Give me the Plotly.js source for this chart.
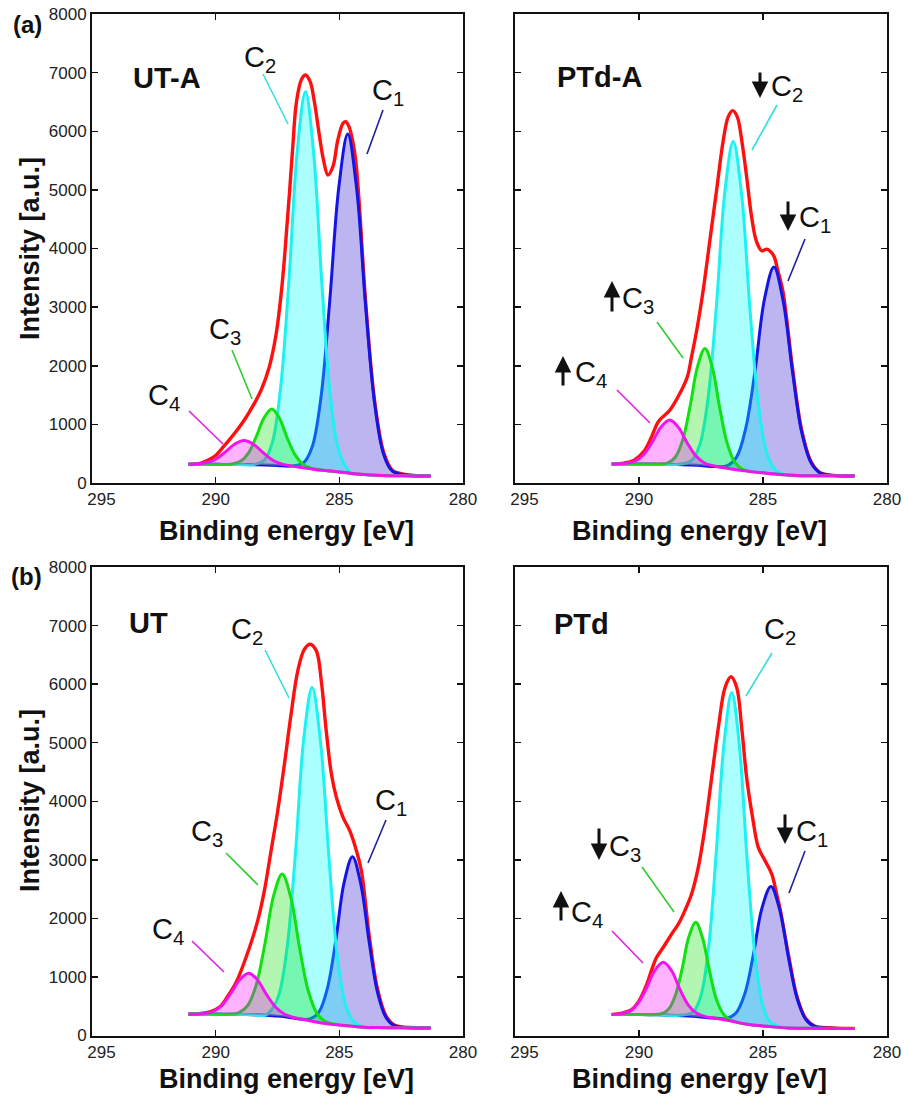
<!DOCTYPE html>
<html><head><meta charset="utf-8">
<script src="https://cdn.plot.ly/plotly-3.0.1.min.js"></script>
<style>html,body{margin:0;padding:0;background:#fff}</style>
</head><body><div id="chart" style="width:905px;height:1098px"></div>
<script>
// ---------- tick labels ----------
const xTickVals = [295, 290, 285, 280];
const xTickText = ['\u2007\u2007295', '290', '285', '280'];
const yTickVals = [0, 1000, 2000, 3000, 4000, 5000, 6000, 7000, 8000];

// ---------- (a) UT-A ----------
const utA_base_x = [281.3,282,283,283.5,284,284.5,285,285.5,286,286.5,287,287.5,288,288.5,289,289.5,290,291.1];
const utA_base_y = [118,120,125,132,145,163,188,210,232,262,288,300,308,312,315,317,318,318];
const utA_env_x = [281.3,282.0,282.5,282.85,283.2,283.57,283.94,284.2,284.34,284.47,284.61,284.74,284.85,285.06,285.26,285.46,285.64,285.8,286.0,286.18,286.37,286.54,286.74,286.88,287.01,287.12,287.22,287.35,287.55,287.83,288.16,288.5,288.8,289.1,289.4,289.7,290.0,290.3,290.6,291.1];
const utA_env_y = [122,130,160,215,510,1390,3110,4800,5510,5852,6079,6164,6137,5852,5396,5254,5510,5908,6478,6846,6960,6875,6478,5750,4980,4380,3830,3236,2554,1984,1587,1310,1100,920,760,610,470,390,340,318];
const utA_c1_x = [282.85,283.21,283.57,283.94,284.30,284.66,285.02,285.39,285.75,286.11,286.47];
const utA_c1_y = [200,489,1349,3033,5016,5951,5049,3095,1436,600,336];
const utA_c2_x = [284.71,285.05,285.38,285.71,286.04,286.37,286.70,287.03,287.37,287.70,288.03];
const utA_c2_y = [257,591,1554,3429,5633,6674,5671,3499,1646,704,392];
const utA_c3_x = [286.17,286.48,286.79,287.11,287.42,287.73,288.04,288.36,288.67,288.98,289.29];
const utA_c3_y = [255,321,479,771,1105,1264,1115,790,515,375,329];
const utA_c4_x = [286.91,287.30,287.69,288.07,288.46,288.85,289.24,289.63,290.01,290.40,290.79];
const utA_c4_y = [288,321,389,513,657,724,661,522,404,344,323];

// ---------- PTd-A ----------
const ptdA_base_x = [281.3,282,283,283.5,284,284.5,285,285.5,286,286.5,287,287.5,288,288.5,289,289.5,290,291.1];
const ptdA_base_y = [122,122,123,125,135,153,174,194,221,255,282,300,309,315,320,323,325,325];
const ptdA_env_x = [281.3,282.0,282.69,283.06,283.44,283.81,284.2,284.4,284.55,284.7,284.85,285.05,285.26,285.46,285.66,285.86,286.04,286.22,286.4,286.6,286.87,287.14,287.41,287.67,287.88,288.05,288.35,288.75,289.22,289.5,289.8,290.2,290.6,291.1];
const ptdA_env_y = [123,125,175,360,900,1960,3280,3620,3860,3950,3990,3960,4117,4543,5226,5852,6249,6352,6249,5852,4999,4146,3293,2610,2155,1814,1530,1245,1046,780,540,390,340,325];
const ptdA_c1_x = [282.69,283.06,283.44,283.81,284.19,284.56,284.94,285.31,285.69,286.06,286.44];
const ptdA_c1_y = [169,344,867,1896,3110,3685,3139,1951,946,446,297];
const ptdA_c2_x = [284.51,284.85,285.19,285.53,285.86,286.20,286.54,286.87,287.21,287.55,287.89];
const ptdA_c2_y = [226,517,1357,2991,4915,5825,4958,3070,1465,650,380];
const ptdA_c3_x = [285.84,286.14,286.44,286.74,287.04,287.34,287.64,287.94,288.24,288.54,288.84];
const ptdA_c3_y = [239,355,671,1268,1965,2294,1985,1308,732,440,344];
const ptdA_c4_x = [287.01,287.36,287.71,288.06,288.41,288.76,289.11,289.46,289.81,290.16,290.51];
const ptdA_c4_y = [293,342,463,688,949,1073,956,701,483,372,335];

// ---------- (b) UT ----------
const ut_base_x = [281.3,282,283,283.5,284,284.5,285,285.5,286,286.5,287,287.5,288,288.5,289,289.5,290,291.1];
const ut_base_y = [130,130,132,135,142,160,180,202,236,277,308,331,345,354,360,364,365,365];
const ut_env_x = [281.3,282.0,282.78,283.12,283.46,283.79,284.11,284.31,284.58,284.85,285.12,285.32,285.53,285.73,285.93,286.18,286.41,286.68,286.95,287.22,287.49,287.76,288.03,288.3,288.77,289.18,289.5,289.8,290.2,290.6,291.1];
const ut_env_y = [132,135,180,340,800,1700,2815,3156,3497,3725,4066,4465,5203,6056,6568,6682,6597,6227,5488,4635,3839,3156,2474,1962,1336,900,680,500,410,375,365];
const ut_c1_x = [282.78,283.12,283.46,283.79,284.13,284.47,284.81,285.14,285.48,285.82,286.16];
const ut_c1_y = [169,314,744,1587,2581,3054,2606,1634,810,405,287];
const ut_c2_x = [284.41,284.75,285.09,285.42,285.76,286.10,286.44,286.77,287.11,287.45,287.79];
const ut_c2_y = [232,526,1382,3048,5013,5944,5065,3144,1511,685,414];
const ut_c3_x = [285.56,285.91,286.26,286.61,286.96,287.31,287.66,288.01,288.36,288.71,289.06];
const ut_c3_y = [238,382,769,1502,2354,2757,2383,1563,863,509,392];
const ut_c4_x = [286.85,287.21,287.57,287.94,288.30,288.66,289.02,289.39,289.75,290.11,290.47];
const ut_c4_y = [308,362,482,697,945,1063,955,717,513,409,374];

// ---------- PTd ----------
const ptd_base_x = [281.3,282,283,283.5,284,284.5,285,285.5,286,286.5,287,287.5,288,288.5,289,289.5,290,291.1];
const ptd_base_y = [120,120,122,124,128,143,164,185,220,266,299,317,331,341,349,356,359,360];
const ptd_env_x = [281.3,282.0,282.91,283.27,283.62,283.97,284.33,284.45,284.65,284.92,285.19,285.42,285.66,285.86,286.06,286.29,286.53,286.8,287.07,287.34,287.61,287.88,288.15,288.41,288.68,289.02,289.29,289.49,289.7,290.0,290.3,290.7,291.1];
const ptd_env_y = [122,125,160,285,650,1370,2200,2417,2759,2986,3213,3725,4407,5260,5942,6125,5942,5260,4407,3554,2871,2417,2133,1906,1735,1506,1336,1120,860,590,440,380,360];
const ptd_c1_x = [282.91,283.27,283.62,283.97,284.33,284.68,285.04,285.39,285.74,286.10,286.46];
const ptd_c1_y = [153,273,628,1326,2152,2545,2180,1378,705,379,293];
const ptd_c2_x = [284.70,285.01,285.32,285.64,285.95,286.26,286.57,286.89,287.20,287.51,287.83];
const ptd_c2_y = [225,515,1357,3003,4939,5859,4993,3100,1486,668,400];
const ptd_c3_x = [286.34,286.61,286.89,287.16,287.44,287.71,287.99,288.26,288.54,288.81,289.09];
const ptd_c3_y = [272,374,630,1110,1669,1933,1685,1141,680,447,371];
const ptd_c4_x = [287.33,287.67,288.01,288.35,288.68,289.02,289.36,289.70,290.04,290.37,290.71];
const ptd_c4_y = [323,378,520,788,1101,1249,1111,807,548,416,372];

// ---------- styles ----------
const W = 905, H = 1098;
const FONT = 'Liberation Sans, Arial, Helvetica, sans-serif';
const compStyle = [
  {line: '#1414e6', fill: 'rgba(90,70,215,0.40)'},
  {line: '#1ff0f0', fill: 'rgba(0,255,255,0.33)'},
  {line: '#12e012', fill: 'rgba(0,225,0,0.30)'},
  {line: '#f014f0', fill: 'rgba(255,0,255,0.30)'}
];
const leadColor = ['#20209a', '#30dede', '#30cc30', '#e020e0'];

const panels = [
  {xa: 'x',  ya: 'y',  bx: utA_base_x, by: utA_base_y, ex: utA_env_x, ey: utA_env_y,
   comps: [[utA_c1_x, utA_c1_y], [utA_c2_x, utA_c2_y], [utA_c3_x, utA_c3_y], [utA_c4_x, utA_c4_y]]},
  {xa: 'x2', ya: 'y2', bx: ptdA_base_x, by: ptdA_base_y, ex: ptdA_env_x, ey: ptdA_env_y,
   comps: [[ptdA_c1_x, ptdA_c1_y], [ptdA_c2_x, ptdA_c2_y], [ptdA_c3_x, ptdA_c3_y], [ptdA_c4_x, ptdA_c4_y]]},
  {xa: 'x3', ya: 'y3', bx: ut_base_x, by: ut_base_y, ex: ut_env_x, ey: ut_env_y,
   comps: [[ut_c1_x, ut_c1_y], [ut_c2_x, ut_c2_y], [ut_c3_x, ut_c3_y], [ut_c4_x, ut_c4_y]]},
  {xa: 'x4', ya: 'y4', bx: ptd_base_x, by: ptd_base_y, ex: ptd_env_x, ey: ptd_env_y,
   comps: [[ptd_c1_x, ptd_c1_y], [ptd_c2_x, ptd_c2_y], [ptd_c3_x, ptd_c3_y], [ptd_c4_x, ptd_c4_y]]}
];

function mergeBase(bx, by, cx, cy) {
  const lo = Math.min(...cx), hi = Math.max(...cx);
  const pts = [];
  bx.forEach((x, i) => { if (x < lo - 0.2 || x > hi + 0.2) pts.push([x, by[i]]); });
  cx.forEach((x, i) => pts.push([x, cy[i]]));
  pts.sort((a, b) => a[0] - b[0]);
  return {x: pts.map(p => p[0]), y: pts.map(p => p[1])};
}

const traces = [];
panels.forEach(P => {
  traces.push({x: P.ex, y: P.ey, xaxis: P.xa, yaxis: P.ya, mode: 'lines', hoverinfo: 'skip',
    line: {color: '#ff1010', width: 3.4, shape: 'spline'}});
  P.comps.forEach((c, i) => {
    traces.push({x: P.bx, y: P.by, xaxis: P.xa, yaxis: P.ya, mode: 'lines', hoverinfo: 'skip',
      line: {color: 'rgba(0,0,0,0)', width: 1, shape: 'spline'}});
    const f = mergeBase(P.bx, P.by, c[0], c[1]);
    traces.push({x: f.x, y: f.y, xaxis: P.xa, yaxis: P.ya, mode: 'lines', hoverinfo: 'skip',
      fill: 'tonexty', fillcolor: compStyle[i].fill,
      line: {color: compStyle[i].line, width: 3, shape: 'spline'}});
  });
});

const px = v => v / W, py = v => 1 - v / H;

function xAxis(dom, anchor) {
  return {domain: dom, anchor: anchor, range: [295, 280], tickmode: 'array', tickvals: xTickVals, ticktext: xTickText,
    ticks: 'inside', ticklen: 6, tickwidth: 1.5, tickcolor: '#111', showline: true, linewidth: 2, linecolor: '#111',
    mirror: 'ticks', showgrid: false, zeroline: false, tickfont: {size: 17, color: '#222', family: FONT}, fixedrange: true};
}
function yAxis(dom, anchor, labels) {
  return {domain: dom, anchor: anchor, range: [0, 8000], tickmode: 'array', tickvals: yTickVals,
    showticklabels: labels, ticks: 'inside', ticklen: 6, tickwidth: 1.5, tickcolor: '#111', showline: true,
    linewidth: 2, linecolor: '#111', mirror: 'ticks', showgrid: false, zeroline: false,
    tickfont: {size: 17, color: '#222', family: FONT}, fixedrange: true};
}
const xL = [px(92), px(463)], xR = [px(515), px(887)];
const yT = [py(483), py(14)], yB = [py(1035.5), py(567)];

const ann = [];
function T(text, x, y, size, opts) {
  ann.push(Object.assign({text: text, x: px(x), y: py(y), xref: 'paper', yref: 'paper', showarrow: false,
    font: {size: size, color: '#111', family: FONT}, xanchor: 'center', yanchor: 'middle'}, opts || {}));
}
function Arrow(x, ytip, ay) {
  ann.push({text: '', x: px(x), y: py(ytip), xref: 'paper', yref: 'paper', showarrow: true,
    ax: 0, ay: ay, arrowhead: 2, arrowsize: 1.1, arrowwidth: 3, arrowcolor: '#111', standoff: 0, startstandoff: 0});
}
// axis titles
[[286, 531], [699, 531], [286, 1079], [699, 1079]].forEach(p => T('<b>Binding energy [eV]</b>', p[0], p[1], 27));
T('<b>Intensity [a.u.]</b>', 30, 249, 27, {textangle: -90});
T('<b>Intensity [a.u.]</b>', 30, 801, 27, {textangle: -90});
T('<b>(a)</b>', 27, 24, 24);
T('<b>(b)</b>', 26, 576, 24);
// sample names
T('<b>UT-A</b>', 131, 78, 29, {xanchor: 'left'});
T('<b>PTd-A</b>', 555, 77, 29, {xanchor: 'left'});
T('<b>UT</b>', 127, 623, 29, {xanchor: 'left'});
T('<b>PTd</b>', 552, 624, 29, {xanchor: 'left'});

// component labels: [name, left x, centre y of C]
const labels = [
  ['C<sub>2</sub>', 245, 55], ['C<sub>1</sub>', 373, 88], ['C<sub>3</sub>', 210, 327], ['C<sub>4</sub>', 149, 393],
  ['C<sub>2</sub>', 772, 84], ['C<sub>1</sub>', 800, 215], ['C<sub>3</sub>', 623, 296], ['C<sub>4</sub>', 576, 370],
  ['C<sub>2</sub>', 232, 627], ['C<sub>1</sub>', 376, 798], ['C<sub>3</sub>', 192, 829], ['C<sub>4</sub>', 153, 927],
  ['C<sub>2</sub>', 765, 627], ['C<sub>1</sub>', 797, 829], ['C<sub>3</sub>', 610, 844], ['C<sub>4</sub>', 572, 910]
];
labels.forEach(l => T(l[0], l[1] - 3, l[2] + 4, 29, {xanchor: 'left'}));

// change arrows: x, tip y, tail offset
Arrow(760, 98, -27); Arrow(788, 231, -31); Arrow(612, 281, 32); Arrow(563, 356, 31);
Arrow(785, 844, -31); Arrow(599, 860, -33); Arrow(561, 891, 31);

// leader lines: [comp index, x1, y1, x2, y2]
const leaders = [
  [1, 263, 74, 288, 124], [0, 383, 110, 367, 154], [2, 232, 350, 252, 399], [3, 189, 411, 223, 444],
  [1, 777, 105, 752, 150], [0, 805, 239, 788, 281], [2, 657, 322, 683, 358], [3, 617, 390, 650, 423],
  [1, 265, 650, 289, 698], [0, 386, 820, 368, 863], [2, 226, 853, 258, 885], [3, 192, 941, 224, 972],
  [1, 772, 653, 746, 696], [0, 805, 851, 789, 893], [2, 642, 867, 674, 912], [3, 612, 931, 643, 963]
];
const shapes = leaders.map(s => ({type: 'line', xref: 'paper', yref: 'paper',
  x0: px(s[1]), y0: py(s[2]), x1: px(s[3]), y1: py(s[4]), line: {color: leadColor[s[0]], width: 1.6}}));

const layout = {
  width: W, height: H, margin: {l: 0, r: 0, t: 0, b: 0}, paper_bgcolor: '#fff', plot_bgcolor: '#fff',
  showlegend: false, hovermode: false, font: {family: FONT, color: '#111'},
  xaxis: xAxis(xL, 'y'), yaxis: yAxis(yT, 'x', true),
  xaxis2: xAxis(xR, 'y2'), yaxis2: yAxis(yT, 'x2', false),
  xaxis3: xAxis(xL, 'y3'), yaxis3: yAxis(yB, 'x3', true),
  xaxis4: xAxis(xR, 'y4'), yaxis4: yAxis(yB, 'x4', false),
  annotations: ann, shapes: shapes
};
Plotly.newPlot('chart', traces, layout, {staticPlot: true, displayModeBar: false});
</script></body></html>
